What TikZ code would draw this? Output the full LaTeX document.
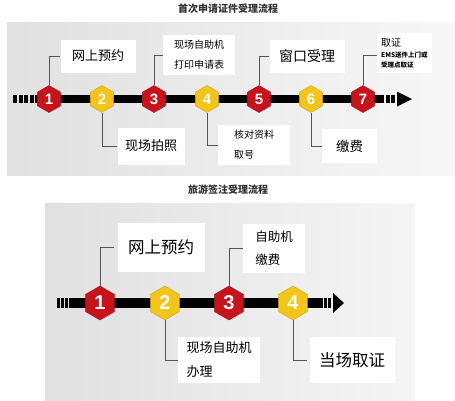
\documentclass[tikz,border=0pt]{standalone}
\usepackage{fontspec}
\setsansfont{Liberation Sans}
\newfontfamily\cjk{Noto Sans CJK SC}
\usetikzlibrary{shapes.geometric}
\definecolor{hexred}{RGB}{200,18,28}
\definecolor{hexyellow}{RGB}{243,197,24}
\definecolor{leadgray}{RGB}{85,85,85}
\tikzset{
	hex/.style={regular polygon, regular polygon sides=6, shape border rotate=30, minimum size=#1, inner sep=0pt, text=white, font=\sffamily\bfseries},
	lbox/.style={fill=white, inner sep=4pt, align=left},
	lead/.style={leadgray, line width=0.9pt},
	bar/.style={line width=#1, black},
	ttl/.style={font=\cjk\bfseries\fontsize{10}{12}\selectfont, text=black!80}
}
\begin{document}
\begin{tikzpicture}[x=1pt, y=-1pt]
	\useasboundingbox (0,0) rectangle (455,400);
	\fill[white] (0,0) rectangle (455,400);
	\node[ttl] (title1) at (228,9) {首次申请证件受理流程};
	\shade[left color=black!12, right color=black!3] (7,22) rectangle (455,175);
	\coordinate (a0) at (13,99);
	\coordinate (a1) at (35,99);
	\coordinate (a2) at (380,99);
	\coordinate (a3) at (397,99);
	\coordinate (a4) at (412,99);
	\draw[bar=8pt, dash pattern=on 4pt off 1.5pt] (a0) -- (a1);
	\draw[bar=8pt] (a1) -- (a2);
	\draw[bar=8pt, dash pattern=on 4pt off 1.5pt] (a2) -- (a3);
	\fill ([yshift=7.5pt]a3) -- (a4) -- ([yshift=-7.5pt]a3) -- cycle;
	\foreach \i/\x/\c in {1/49/hexred, 2/102/hexyellow, 3/154/hexred, 4/207/hexyellow, 5/259/hexred, 6/311/hexyellow, 7/363/hexred}
		\node[hex=27, fill=\c, draw=\c!85!black, font=\sffamily\bfseries\fontsize{15}{15}\selectfont] (h\i) at (\x,99) {\i};
	\node[lbox, minimum width=75, minimum height=33, font=\cjk\fontsize{13}{15}\selectfont] (t1) at (98,56) {网上预约};
	\node[lbox, minimum width=72, minimum height=40, font=\cjk\fontsize{10}{20}\selectfont] (t3) at (199,55) {现场自助机\\打印申请表};
	\node[lbox, minimum width=75, minimum height=33, font=\cjk\fontsize{14}{16}\selectfont] (t5) at (307,56) {窗口受理};
	\node[lbox, anchor=west, minimum height=40, font=\cjk\fontsize{10}{10}\selectfont] (t7) at (377,53) {取证\\[1pt]{\bfseries\fontsize{6.5}{10}\selectfont EMS送件上门或}\\{\bfseries\fontsize{6.5}{10}\selectfont 受理点取证}};
	\node[lbox, minimum width=67, minimum height=37, font=\cjk\fontsize{13}{15}\selectfont] (t2) at (151,146) {现场拍照};
	\node[lbox, minimum width=72, minimum height=40, font=\cjk\fontsize{10}{20}\selectfont] (t4) at (254,145) {核对资料\\取号};
	\node[lbox, anchor=west, minimum width=55, minimum height=34, font=\cjk\fontsize{13.5}{15}\selectfont] (t6) at (322,146) {缴费};
	\draw[lead] (h1.north) |- (t1.west);
	\draw[lead] (h3.north) |- (t3.west);
	\draw[lead] (h5.north) |- (t5.west);
	\draw[lead] (h7.north) |- ([yshift=-2pt]t7.west);
	\draw[lead] (h2.south) |- (t2.west);
	\draw[lead] (h4.south) |- (t4.west);
	\draw[lead] (h6.south) |- (t6.west);
	\node[ttl] (title2) at (228,190) {旅游签注受理流程};
	\shade[left color=black!12, right color=black!4] (45,203) rectangle (415,400);
	\coordinate (b0) at (57,303);
	\coordinate (b1) at (69,303);
	\coordinate (b2) at (320,303);
	\coordinate (b3) at (333,303);
	\coordinate (b4) at (344,303);
	\draw[bar=10pt, dash pattern=on 3pt off 1.2pt] (b0) -- (b1);
	\draw[bar=10pt] (b1) -- (b2);
	\draw[bar=10pt, dash pattern=on 3pt off 1.2pt] (b2) -- (b3);
	\fill ([yshift=10pt]b3) -- (b4) -- ([yshift=-10pt]b3) -- cycle;
	\foreach \i/\x/\c in {1/100/hexred, 2/165/hexyellow, 3/229/hexred, 4/293/hexyellow}
		\node[hex=34, fill=\c, draw=\c!85!black, font=\sffamily\bfseries\fontsize{20}{20}\selectfont] (k\i) at (\x,303) {\i};
	\node[lbox, minimum width=87, minimum height=49, font=\cjk\fontsize{16.5}{18}\selectfont] (s1) at (161,247) {网上预约};
	\node[lbox, minimum width=62, minimum height=49, font=\cjk\fontsize{12.5}{23}\selectfont] (s3) at (274,248) {自助机\\缴费};
	\node[lbox, minimum width=82, minimum height=46, font=\cjk\fontsize{13}{24}\selectfont] (s2) at (219,360) {现场自助机\\办理};
	\node[lbox, minimum width=85, minimum height=46, font=\cjk\fontsize{16.5}{18}\selectfont] (s4) at (352,360) {当场取证};
	\draw[lead] (k1.north) |- ([xshift=-3pt]s1.west);
	\draw[lead] (k3.north) |- (s3.west);
	\draw[lead] (k2.south) |- (s2.west);
	\draw[lead] (k4.south) |- ([xshift=-2pt]s4.west);
\end{tikzpicture}
\end{document}
